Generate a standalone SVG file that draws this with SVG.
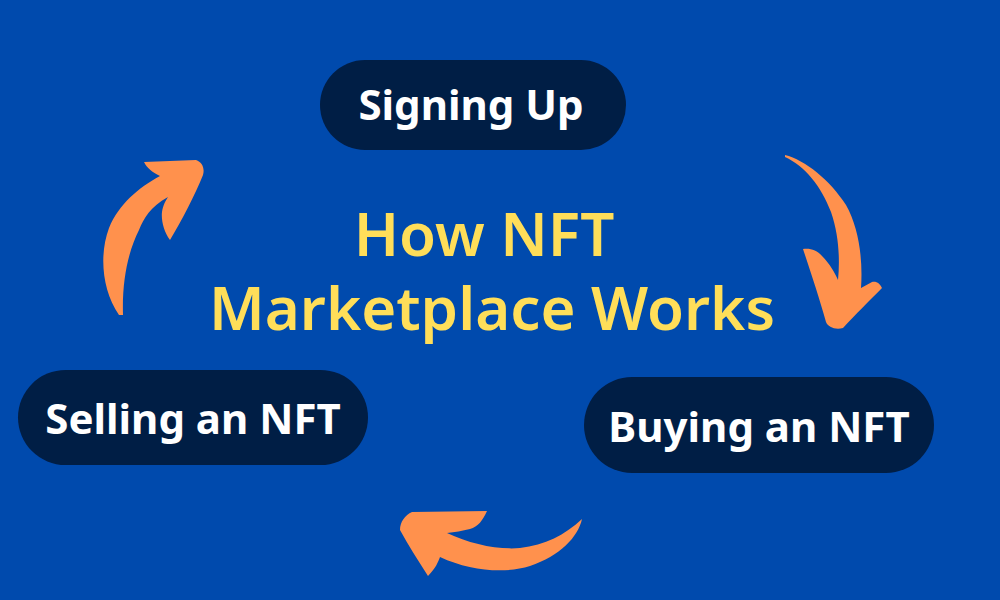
<svg xmlns="http://www.w3.org/2000/svg" width="1000" height="600" viewBox="0 0 1000 600">
<style>
.pill{fill:#001E45}
.lbl{fill:#FFFFFF;font-family:"Noto Sans","Open Sans",sans-serif;font-weight:700;font-size:42px;text-anchor:middle}
.title{fill:#FFDE59;font-family:"Noto Sans","Open Sans",sans-serif;font-weight:600;font-size:60px;text-anchor:middle}
.arr{fill:#FF914D}
</style>
<rect width="1000" height="600" fill="#004AAD"/>
<g id="title">
<text class="title" x="484" y="256">How NFT</text>
<text class="title" x="492" y="330">Marketplace Works</text>
</g>
<g id="signing-up">
<rect class="pill" x="320" y="60" width="306" height="90" rx="45"/>
<text class="lbl" x="471" y="120">Signing Up</text>
</g>
<g id="selling">
<rect class="pill" x="18" y="370" width="350" height="95" rx="47.5"/>
<text class="lbl" x="193" y="434">Selling an NFT</text>
</g>
<g id="buying">
<rect class="pill" x="584" y="377" width="350" height="96" rx="48"/>
<text class="lbl" x="759" y="442">Buying an NFT</text>
</g>
<g id="connectors">
<path class="arr" d="M119,315 C102,290 99,255 109,228 C119,204 138,188 160,176 C152,172 147,168 144,162 L196,160 C202,162 205,168 203,175 C195,195 182,220 170,240 C164,232 161,220 162,212 C163,205 166,200 168,197 C150,207 144,218 139,230 C128,252 122,280 123,315 Z"/>
<path class="arr" d="M785,155 C805,160 830,180 846,205 C859,228 863,260 861,288 L872,282 C877,281 880,284 882,288 C870,300 855,315 843,328 C835,330 828,327 826,322 C820,300 810,270 803,249 C810,248 817,250 822,256 C830,264 835,273 838,280 C840,260 839,235 831,212 C821,186 805,166 785,157 Z"/>
<path class="arr" d="M582,519 C578,537 560,556 530,566 C505,574 470,571 440,557 C438,562 436,568 428,576 C418,560 408,545 400,530 C400,522 405,515 412,512 L487,511 C483,520 478,527 470,529 C462,531 455,532 447,533 C470,544 498,550 520,548 C545,545 565,535 582,519 Z"/>
</g>
</svg>
